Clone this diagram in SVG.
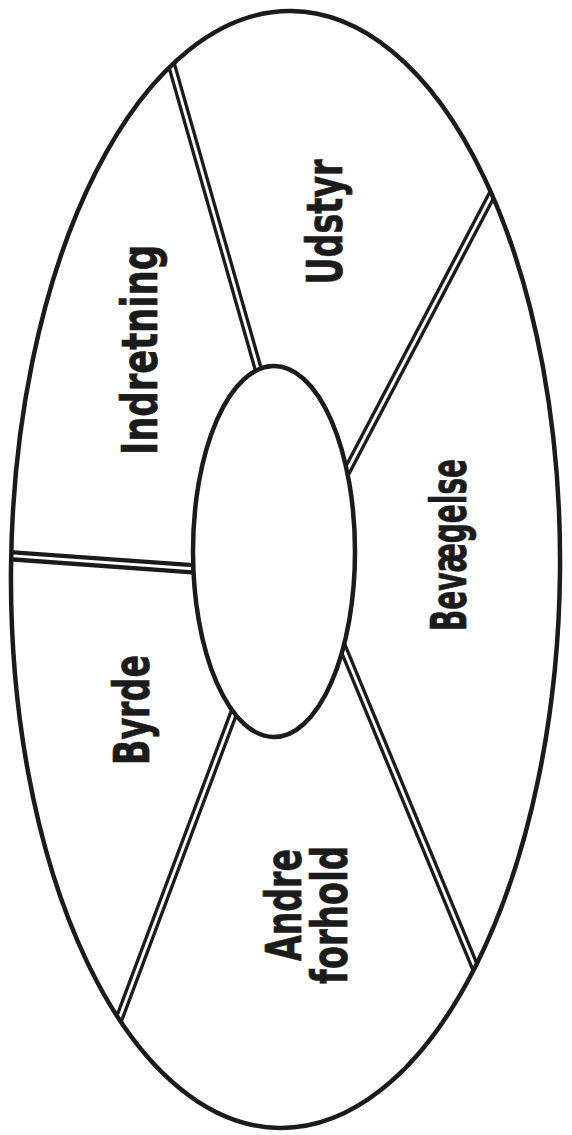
<svg xmlns="http://www.w3.org/2000/svg" width="572" height="1135" viewBox="0 0 572 1135">
  <style>
    .ring{fill:none;stroke:#1b1b1b;stroke-width:4.5}
    .hub{fill:#fff;stroke:#1b1b1b;stroke-width:4.5}
    .sb{stroke:#1b1b1b;stroke-width:9.5;fill:none}
    .sw{stroke:#fff;stroke-width:2.8;fill:none}
    .lbl{font-family:"DejaVu Sans Condensed","DejaVu Sans",sans-serif;font-weight:bold;font-size:50px;fill:#1b1b1b;stroke:#1b1b1b;stroke-width:0.7;text-anchor:middle}
  </style>
  <defs>
    <clipPath id="inside">
      <ellipse cx="285.5" cy="569.5" rx="274.5" ry="558.5" transform="rotate(0.6 285.5 569.5)"/>
    </clipPath>
  </defs>
  <rect width="572" height="1135" fill="#fff"/>
  <g id="connectors" clip-path="url(#inside)">
    <g id="spoke-1"><line class="sb" x1="167" y1="49" x2="265" y2="393"/><line class="sw" x1="167" y1="49" x2="265" y2="393"/></g>
    <g id="spoke-2"><line class="sb" x1="497" y1="185" x2="338" y2="488"/><line class="sw" x1="497" y1="185" x2="338" y2="488"/></g>
    <g id="spoke-3"><line class="sb" x1="0" y1="555" x2="210" y2="570" style="stroke-width:11.5"/><line class="sw" x1="0" y1="555" x2="210" y2="570"/></g>
    <g id="spoke-4"><line class="sb" x1="116" y1="1027" x2="242" y2="691"/><line class="sw" x1="116" y1="1027" x2="242" y2="691"/></g>
    <g id="spoke-5"><line class="sb" x1="482" y1="984" x2="336" y2="631"/><line class="sw" x1="482" y1="984" x2="336" y2="631"/></g>
  </g>
  <g id="outer-ring">
    <ellipse class="ring" cx="285.5" cy="569.5" rx="274.5" ry="558.5" transform="rotate(0.6 285.5 569.5)"/>
  </g>
  <g id="hub">
    <ellipse class="hub" cx="274" cy="551.5" rx="81" ry="185.5"/>
  </g>
  <g id="udstyr"><text class="lbl" transform="translate(342,222) rotate(-90)" textLength="125" lengthAdjust="spacingAndGlyphs">Udstyr</text></g>
  <g id="indretning"><text class="lbl" transform="translate(157,350) rotate(-90)" textLength="210" lengthAdjust="spacingAndGlyphs">Indretning</text></g>
  <g id="bevaegelse"><text class="lbl" transform="translate(466,545) rotate(-90)" textLength="172" lengthAdjust="spacingAndGlyphs">Bevægelse</text></g>
  <g id="byrde"><text class="lbl" transform="translate(149,710) rotate(-90)" textLength="110" lengthAdjust="spacingAndGlyphs">Byrde</text></g>
  <g id="andre-forhold">
    <text class="lbl" transform="translate(301,905) rotate(-90)" textLength="112" lengthAdjust="spacingAndGlyphs">Andre</text>
    <text class="lbl" transform="translate(347,915) rotate(-90)" textLength="138" lengthAdjust="spacingAndGlyphs">forhold</text>
  </g>
</svg>
